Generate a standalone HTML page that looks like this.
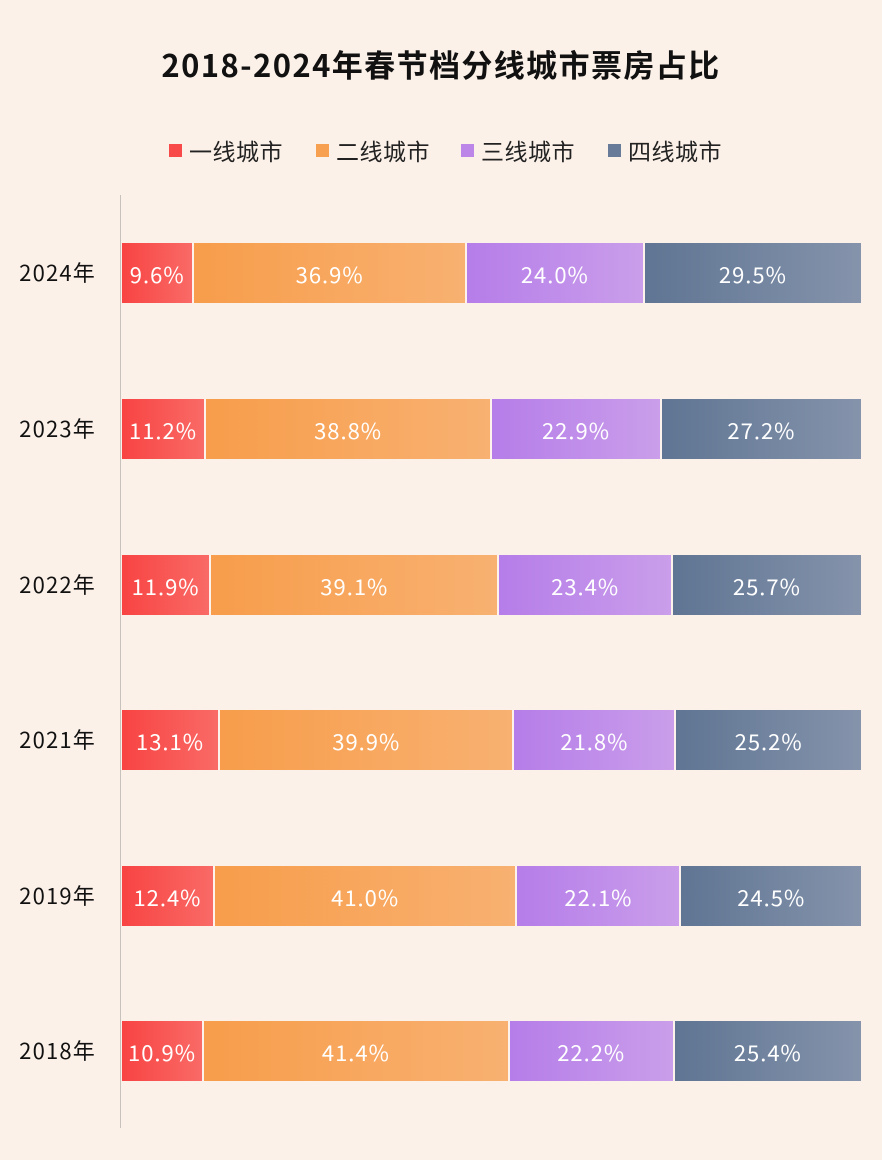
<!DOCTYPE html>
<html><head><meta charset="utf-8"><style>
body{margin:0;width:882px;height:1160px;background:#fcf1e8;font-family:"Noto Sans CJK SC","Liberation Sans",sans-serif;position:relative;overflow:hidden}
.title{position:absolute;top:42px;left:0;width:882px;text-align:center;font-size:31px;font-weight:bold;color:#111;line-height:44px;letter-spacing:1.4px}
.leg{position:absolute;top:134px;font-size:23px;color:#222;display:flex;align-items:center;line-height:32px;letter-spacing:0.5px}
.leg i{display:inline-block;width:13px;height:13px;margin-right:7px}
.axis{position:absolute;left:120px;top:195px;width:1px;height:933px;background:#c8c2bd}
.row{position:absolute;left:122px;width:739px;height:60px;display:flex}
.row div{height:60px;display:flex;align-items:center;justify-content:center;color:#fff;font-size:22px;letter-spacing:1px;box-sizing:border-box;border-left:2px solid #fdf3ec;padding-top:2px}
.row div:first-child{border-left:none}
.a{background:linear-gradient(90deg,#f84443,#f96a66)}
.b{background:linear-gradient(90deg,#f79d4b,#f8b171)}
.c{background:linear-gradient(90deg,#b57de9,#ca9eea)}
.d{background:linear-gradient(90deg,#5f7593,#8593ab)}
.y{position:absolute;left:0;width:96px;text-align:right;font-size:22px;color:#111;line-height:30px;letter-spacing:1.2px}
</style></head><body>
<div class="title">2018-2024年春节档分线城市票房占比</div>
<div class="leg" style="left:169px"><i style="background:#f84a48"></i>一线城市</div>
<div class="leg" style="left:316px"><i style="background:#f7a04f"></i>二线城市</div>
<div class="leg" style="left:461px"><i style="background:#bb86e8"></i>三线城市</div>
<div class="leg" style="left:608px"><i style="background:#687c99"></i>四线城市</div>
<div class="axis"></div>

<div class="y" style="top:257px">2024年</div>
<div class="row" style="top:243px"><div class="a" style="flex:9.6">9.6%</div><div class="b" style="flex:36.9">36.9%</div><div class="c" style="flex:24.0">24.0%</div><div class="d" style="flex:29.5">29.5%</div></div>

<div class="y" style="top:413px">2023年</div>
<div class="row" style="top:399px"><div class="a" style="flex:11.2">11.2%</div><div class="b" style="flex:38.8">38.8%</div><div class="c" style="flex:22.9">22.9%</div><div class="d" style="flex:27.2">27.2%</div></div>

<div class="y" style="top:569px">2022年</div>
<div class="row" style="top:555px"><div class="a" style="flex:11.9">11.9%</div><div class="b" style="flex:39.1">39.1%</div><div class="c" style="flex:23.4">23.4%</div><div class="d" style="flex:25.7">25.7%</div></div>

<div class="y" style="top:724px">2021年</div>
<div class="row" style="top:710px"><div class="a" style="flex:13.1">13.1%</div><div class="b" style="flex:39.9">39.9%</div><div class="c" style="flex:21.8">21.8%</div><div class="d" style="flex:25.2">25.2%</div></div>

<div class="y" style="top:880px">2019年</div>
<div class="row" style="top:866px"><div class="a" style="flex:12.4">12.4%</div><div class="b" style="flex:41.0">41.0%</div><div class="c" style="flex:22.1">22.1%</div><div class="d" style="flex:24.5">24.5%</div></div>

<div class="y" style="top:1035px">2018年</div>
<div class="row" style="top:1021px"><div class="a" style="flex:10.9">10.9%</div><div class="b" style="flex:41.4">41.4%</div><div class="c" style="flex:22.2">22.2%</div><div class="d" style="flex:25.4">25.4%</div></div>
</body></html>
